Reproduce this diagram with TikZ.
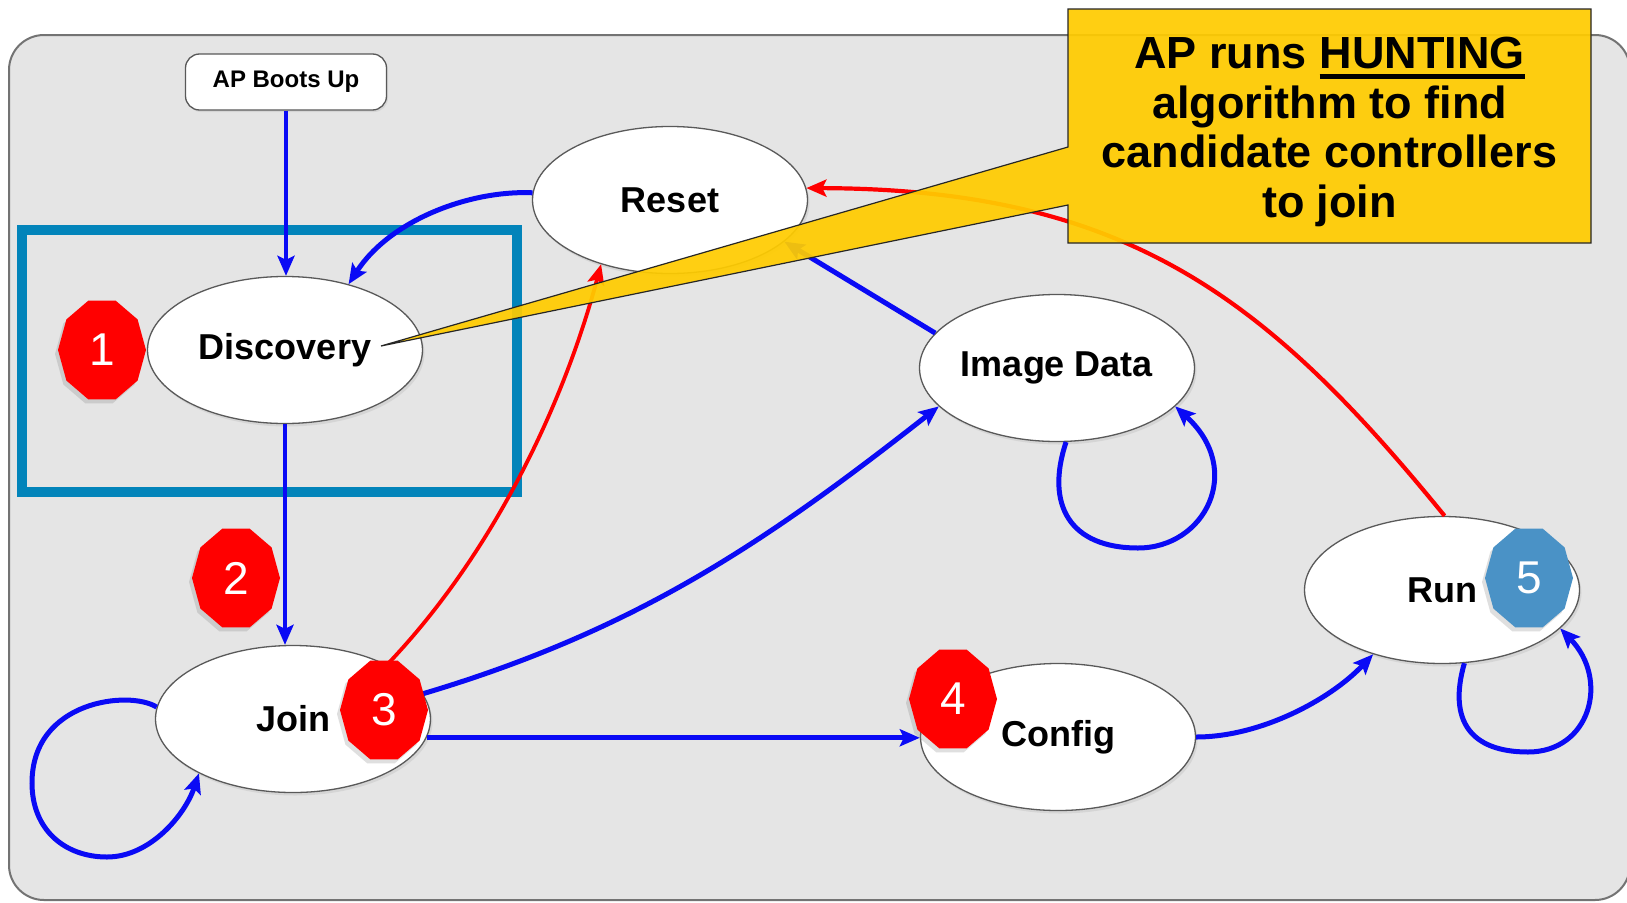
\documentclass[tikz,border=0pt]{standalone}
\usepackage{fontspec}
\setmainfont{Liberation Sans}
\usetikzlibrary{shapes.geometric,arrows.meta,shadows}
\definecolor{bggrey}{RGB}{229,229,229}
\definecolor{tealbox}{RGB}{2,132,186}
\definecolor{arrowblue}{RGB}{10,10,245}
\definecolor{badgeblue}{RGB}{74,146,198}
\definecolor{badgered}{RGB}{255,0,0}
\definecolor{calloutyellow}{RGB}{255,204,0}
\newcommand\hul[1]{\setbox0\hbox{#1}\rlap{\rule[-10pt]{\wd0}{5pt}}\box0}
\newcommand\mybadge[5]{%
  \begin{scope}[shift={(#2,#3)}]
    \fill[#4, drop shadow={shadow xshift=-3pt, shadow yshift=-4pt, opacity=0.25}]
      (0:44 and 52) \foreach \a in {36,72,...,324}{ -- (\a:44 and 52)} -- cycle;
  \end{scope}
  \node[badgetext] (#1) at (#2,#3) {#5};}
\begin{document}
\begin{tikzpicture}[x=1pt,y=-1pt,
  state/.style={ellipse, draw=black!65, line width=1.3pt, fill=white,
    minimum width=275pt, minimum height=147pt, inner sep=0pt,
    font=\bfseries\fontsize{36}{40}\selectfont,
    drop shadow={shadow xshift=2pt, shadow yshift=-3pt, opacity=0.15}},
  bootbox/.style={rectangle, rounded corners=14pt, draw=black!65, line width=1.3pt,
    fill=white, minimum width=201pt, minimum height=56pt, inner sep=0pt,
    font=\bfseries\fontsize{24}{28}\selectfont,
    drop shadow={shadow xshift=1.5pt, shadow yshift=-2pt, opacity=0.15}},
  badgetext/.style={text=white, font=\fontsize{46}{46}\selectfont, inner sep=0pt},
  barrow/.style={draw=arrowblue, line width=5pt,
    -{Stealth[length=20pt,width=17pt,inset=4pt]}},
  rarrow/.style={draw=badgered, line width=4.2pt,
    -{Stealth[length=20pt,width=17pt,inset=4pt]}},
  callouttext/.style={align=center, inner sep=0pt,
    font=\bfseries\fontsize{45}{49.5}\selectfont}]
\useasboundingbox (0,0) rectangle (1627,902);
\fill[white] (0,0) rectangle (1627,902);
\draw[fill=bggrey, draw=black!55, line width=2pt, rounded corners=35pt] (9,35) rectangle (1630,900);
\draw[tealbox, line width=10pt] (22,229.5) rectangle (517,491.5);

% states
\node[bootbox] (boot) at (286,82) {AP Boots Up};
\node[state] (disc) at (285,350) {Discovery};
\node[state] (reset) at (670,200) {Reset};
\node[state] (img) at (1057,368) {Image Data};
\node[state] (join) at (293,719) {Join};
\node[state] (config) at (1058,737) {Config};
\node[state] (run) at (1442,590) {Run};

% connectors
\draw[barrow, line width=4.5pt] (boot.south) -- (boot.south |- disc.north);
\draw[barrow, line width=4.5pt] (disc.south) -- (disc.south |- join.north);
\draw[barrow] (reset.177) .. controls (470,190) and (390,220) .. (disc.46);
\draw[rarrow, line width=3.8pt] (join.30) .. controls (490,557) and (562,410) .. (reset.223);
\draw[barrow] (join.11) .. controls (637,630) and (766,542) .. (img.198);
\draw[barrow] (join.-8) -- (join.-8 -| config.west);
\draw[barrow] (config.east) .. controls (1260,737) and (1330,700) .. (run.223);
\draw[rarrow] (run.88) .. controls (1268,299) and (1128,189) .. (reset.5);
\draw[barrow] (img.164) -- (reset.-20);
\draw[barrow] (join.175) .. controls (130,690) and (32,700) .. (32,783)
   .. controls (32,830) and (65,857) .. (107,857)
   .. controls (150,857) and (185,815) .. (join.210);
\draw[barrow] (img.-83) .. controls (1045,505) and (1070,548) .. (1138,548)
   .. controls (1205,548) and (1245,470) .. (img.-18);
\draw[barrow] (run.-73) .. controls (1448,720) and (1470,752) .. (1528,752)
   .. controls (1590,752) and (1610,680) .. (run.-18);

% badges
\mybadge{b1}{102}{350}{badgered}{1}
\mybadge{b2}{236}{578}{badgered}{2}
\mybadge{b3}{384}{710}{badgered}{3}
\mybadge{b4}{953}{699}{badgered}{4}
\mybadge{b5}{1529}{578}{badgeblue}{5}

% callout
\coordinate (tip) at (381,346);
\filldraw[fill=calloutyellow, fill opacity=0.93, draw=black!85, line width=1.2pt]
  (1068,9) -- (1591,9) -- (1591,243) -- (1068,243) -- (1068,205) -- (tip) -- (1068,147) -- cycle;
\node[callouttext] (callout) at (1329.5,132) {AP runs \hul{HUNTING}\\algorithm to find\\candidate controllers\\to join};
\end{tikzpicture}
\end{document}
